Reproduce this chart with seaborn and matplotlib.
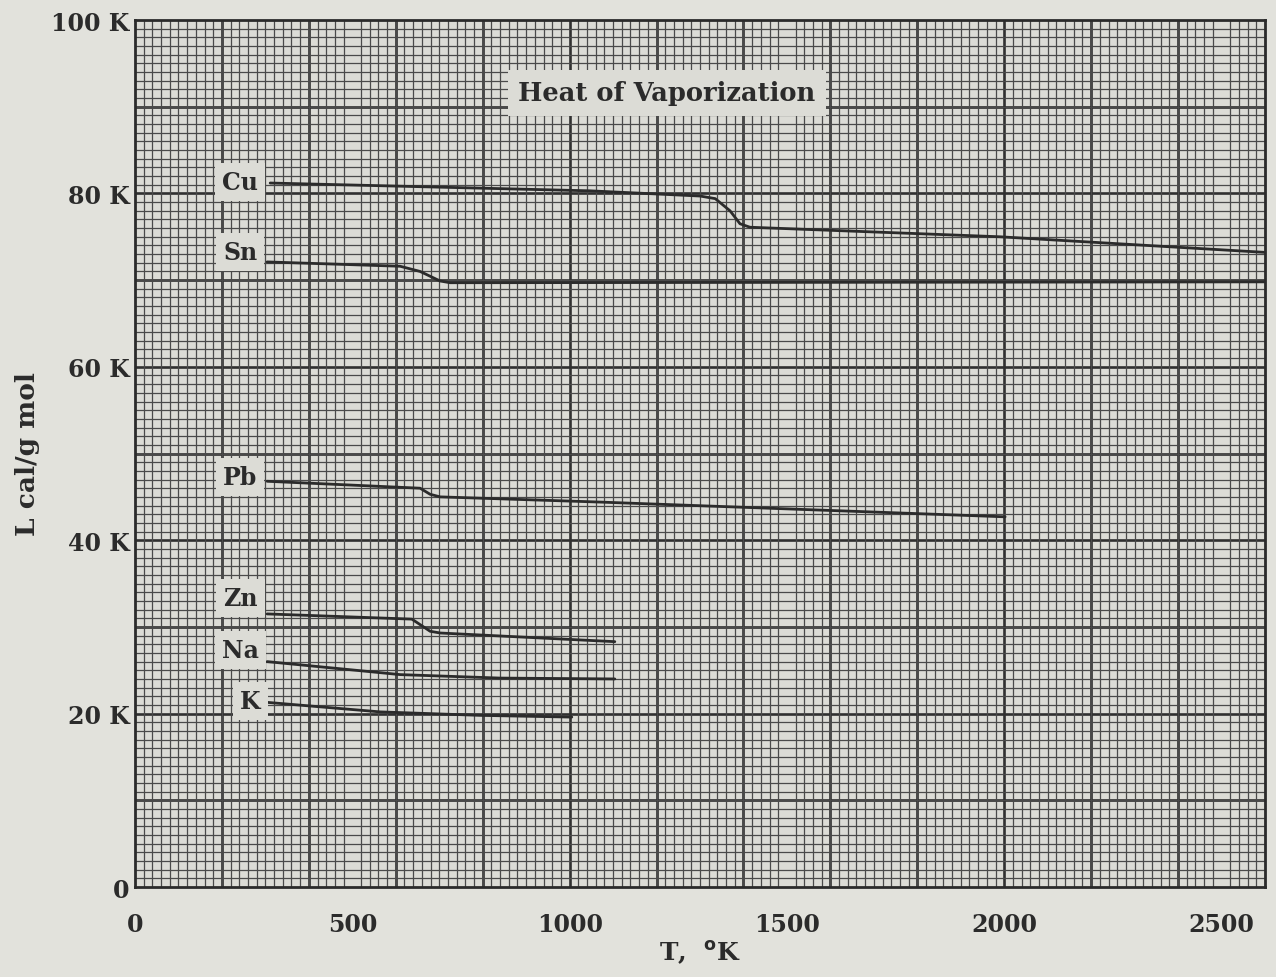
import numpy as np
import pandas as pd
import matplotlib
matplotlib.use("Agg")
import matplotlib.pyplot as plt
from matplotlib.ticker import MultipleLocator, FuncFormatter
import seaborn as sns

# values (T in K, L in kcal/g mol)
cu_T = [311, 1047, 1300, 1335, 1369, 1392, 1415, 1990, 2600]
cu_L = [81.2, 80.3, 79.7, 79.4, 78.0, 76.5, 76.1, 75.0, 73.2]
sn_T = [304, 610, 656, 702, 725, 2600]
sn_L = [72.1, 71.6, 71.0, 69.9, 69.7, 69.8]
pb_T = [304, 656, 679, 702, 1070, 2002]
pb_L = [46.8, 46.0, 45.3, 45.0, 44.4, 42.7]
zn_T = [304, 637, 679, 702, 1104]
zn_L = [31.5, 30.9, 29.5, 29.3, 28.3]
na_T = [304, 610, 840, 1104]
na_L = [26.0, 24.5, 24.1, 24.0]
k_T = [304, 564, 794, 1005]
k_L = [21.3, 20.2, 19.8, 19.6]

metals = ["Cu", "Sn", "Pb", "Zn", "Na", "K"]
label_T = [242, 242, 242, 242, 242, 265]
label_L = [81.3, 73.2, 47.3, 33.3, 27.3, 21.5]

x_ticks = [0, 500, 1000, 1500, 2000, 2500]
y_ticks = [0, 20, 40, 60, 80, 100]
y_labels = ["0", "20 K", "40 K", "60 K", "80 K", "100 K"]

series = {"Cu": (cu_T, cu_L), "Sn": (sn_T, sn_L), "Pb": (pb_T, pb_L),
          "Zn": (zn_T, zn_L), "Na": (na_T, na_L), "K": (k_T, k_L)}

paper = "#dcdcd6"
ink = "#2b2b2b"

sns.set_style("white")
plt.rcParams["font.family"] = ["DejaVu Serif"]
plt.rcParams["font.weight"] = "bold"

fig = plt.figure(figsize=(12.76, 9.78), dpi=100, facecolor="#e2e2dc")
ax = fig.add_axes([0.1058, 0.092, 0.8856, 0.8865])
ax.set_facecolor(paper)

for m in metals:
    T, L = series[m]
    df = pd.DataFrame({"T": T, "L": L})
    sns.lineplot(data=df, x="T", y="L", sort=False, color=ink, lw=2.0, ax=ax)

ax.set_xlim(0, 2600)
ax.set_ylim(0, 100)

# graph paper: fine lines every 20 K / 1 K, heavy lines every 200 K / 10 K
ax.set_xticks(x_ticks)
ax.set_yticks(y_ticks)
ax.set_yticklabels(y_labels)
ax.xaxis.set_minor_locator(MultipleLocator(20))
ax.yaxis.set_minor_locator(MultipleLocator(1))
ax.grid(which="minor", color="#4a4a4a", lw=0.9)
ax.grid(which="major", visible=False)
for v in np.arange(200, 2600, 200):
    ax.axvline(v, color="#303030", lw=1.9, zorder=0.5)
for v in np.arange(10, 100, 10):
    ax.axhline(v, color="#303030", lw=1.9, zorder=0.5)
ax.set_axisbelow(True)

ax.tick_params(which="both", length=0, labelsize=17, colors=ink)
ax.tick_params(axis="x", pad=18)
ax.tick_params(axis="y", pad=4)

for s in ax.spines.values():
    s.set_color(ink)
    s.set_linewidth(2)

ax.set_xlabel("T,  $^{\\rm o}$K", fontsize=18, fontweight="bold", color=ink, labelpad=2)
ax.set_ylabel("L cal/g mol", fontsize=19, fontweight="bold", color=ink, labelpad=8)

box = dict(boxstyle="square,pad=0.3", facecolor=paper, edgecolor="none")
for m, tx, ty in zip(metals, label_T, label_L):
    ax.text(tx, ty, m, fontsize=17, fontweight="bold", color=ink,
            ha="center", va="center", bbox=box, zorder=5)

ax.text(1224, 91.6, "Heat of Vaporization", fontsize=18.5, fontweight="bold",
        color=ink, ha="center", va="center",
        bbox=dict(boxstyle="square,pad=0.4", facecolor=paper, edgecolor="none"),
        zorder=5)

fig.savefig("out.png", dpi=100, facecolor=fig.get_facecolor())
